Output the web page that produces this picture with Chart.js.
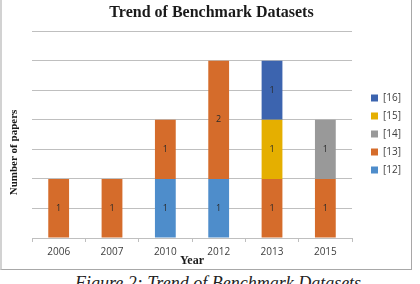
<!DOCTYPE html>
<html>
<head>
<meta charset="utf-8">
<script src="https://cdn.jsdelivr.net/npm/chart.js@4"></script>
<style>
  html, body { margin: 0; padding: 0; background: #fff; width: 420px; height: 284px; overflow: hidden; }
  #box {
    position: absolute; left: 0; top: 0; width: 409px; height: 269px;
    border-left: 2px solid #d2d2d2; border-right: 1px solid #a8a8a8; border-bottom: 1px solid #a8a8a8;
  }
  #caption {
    position: absolute; left: 75px; top: 275px; white-space: nowrap;
    font: italic 18px "Liberation Serif", serif; line-height: 17px; color: #222;
  }
</style>
</head>
<body>
<div id="box"><canvas id="trendChart" width="409" height="268"></canvas></div>
<div id="caption">Figure 2: Trend of Benchmark Datasets</div>
<script>
// Years on the x axis
const years = ['2006', '2007', '2010', '2012', '2013', '2015'];

// Papers per benchmark dataset (null = none that year)
const ref12 = [null, null, 1, 1, null, null];
const ref13 = [1, 1, 1, 2, 1, 1];
const ref14 = [null, null, null, null, null, 1];
const ref15 = [null, null, null, null, 1, null];
const ref16 = [null, null, null, null, 1, null];

const seriesNames = ['[12]', '[13]', '[14]', '[15]', '[16]'];
const seriesColors = ['#4e8dcb', '#d56c2b', '#999999', '#e5af00', '#3c64af'];

const serif = '"Liberation Serif", "Times New Roman", serif';
const sans = '"Open Sans", sans-serif';

// draws the value in the middle of every bar segment
const barValueLabels = {
    id: 'barValueLabels',
    afterDatasetsDraw(chart) {
        const ctx = chart.ctx;
        ctx.save();
        ctx.font = '9px ' + sans;
        ctx.fillStyle = '#2a2a2a';
        ctx.textAlign = 'center';
        ctx.textBaseline = 'middle';
        chart.data.datasets.forEach((ds, i) => {
            chart.getDatasetMeta(i).data.forEach((bar, j) => {
                const v = ds.data[j];
                if (v === null || v === undefined) return;
                const p = bar.getCenterPoint();
                ctx.fillText(String(v), p.x, p.y);
            });
        });
        ctx.restore();
    }
};

const allSeries = [ref12, ref13, ref14, ref15, ref16];
const datasets = allSeries.map((values, i) => ({
    label: seriesNames[i],
    data: values,
    backgroundColor: seriesColors[i],
    borderWidth: 0,
    barPercentage: 0.39,
    categoryPercentage: 1
}));

new Chart(document.getElementById('trendChart'), {
    type: 'bar',
    data: { labels: years, datasets: datasets },
    plugins: [barValueLabels],
    options: {
        responsive: false,
        animation: false,
        devicePixelRatio: 1,
        layout: { padding: { left: 10, right: 0, top: 0, bottom: 0 } },
        plugins: {
            title: {
                display: true,
                text: 'Trend of Benchmark Datasets',
                color: '#1a1a1a',
                font: { family: serif, size: 16, weight: 'bold' },
                padding: { top: 3, bottom: 9 }
            },
            legend: {
                display: true,
                position: 'right',
                reverse: true,
                labels: {
                    boxWidth: 7,
                    boxHeight: 7,
                    padding: 8,
                    color: '#404040',
                    font: { family: sans, size: 10 }
                }
            },
            tooltip: { enabled: false }
        },
        scales: {
            x: {
                stacked: true,
                grid: { display: true, drawOnChartArea: false, drawTicks: true, tickLength: 4, color: '#bfbfbf', offset: true },
                border: { color: '#bfbfbf' },
                ticks: { color: '#404040', padding: 4, font: { family: sans, size: 10 } },
                title: {
                    display: true,
                    text: 'Year',
                    color: '#1a1a1a',
                    font: { family: serif, size: 12, weight: 'bold' },
                    padding: { top: 1, bottom: 0 }
                },
                afterFit(scale) { scale.height = 30; }
            },
            y: {
                stacked: true,
                min: 0,
                max: 3.5,
                ticks: { display: false, stepSize: 0.5 },
                grid: { color: '#bfbfbf', drawTicks: false },
                border: { display: false },
                title: {
                    display: true,
                    // trailing spaces push the centred text down like the original
                    text: 'Number of papers             ',
                    color: '#1a1a1a',
                    font: { family: serif, size: 11, weight: 'bold' },
                    padding: { top: -4, bottom: 0 }
                },
                afterFit(scale) { scale.width = 20; }
            },
            // empty axis, only keeps a small gap before the legend
            gap: {
                position: 'right',
                display: true,
                grid: { display: false },
                border: { display: false },
                ticks: { display: false },
                afterFit(scale) { scale.width = 11; }
            }
        }
    }
});
</script>
</body>
</html>
